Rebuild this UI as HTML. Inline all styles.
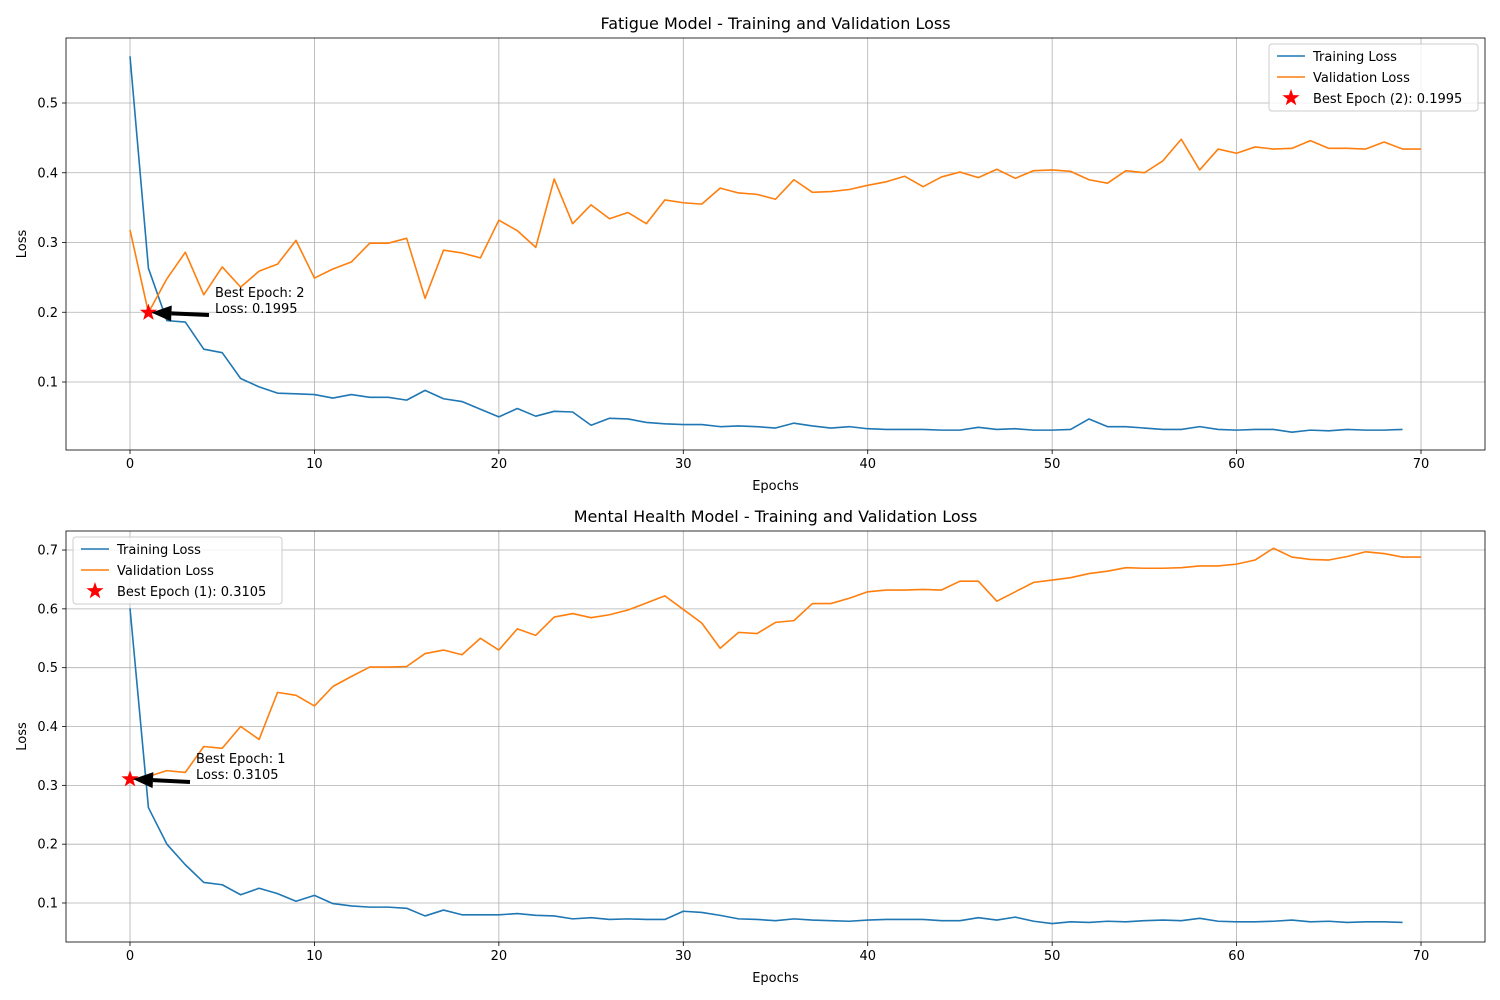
<!DOCTYPE html>
<html><head><meta charset="utf-8">
<style>
html,body{margin:0;padding:0;background:#fff;}
svg{display:block;font-family:"DejaVu Sans","Liberation Sans",sans-serif;}
</style></head>
<body>
<svg id="chart" width="1500" height="1000" viewBox="0 0 1500 1000" xmlns="http://www.w3.org/2000/svg"></svg>
<script>
const epochsTrain = Array.from({length:70},(_,i)=>i);
const epochsVal = Array.from({length:71},(_,i)=>i);
const fatigueTrain = [0.567,0.263,0.188,0.186,0.147,0.142,0.105,0.093,0.084,0.083,0.082,0.077,0.082,0.078,0.078,0.074,0.088,0.076,0.072,0.061,0.050,0.062,0.051,0.058,0.057,0.038,0.048,0.047,0.042,0.040,0.039,0.039,0.036,0.037,0.036,0.034,0.041,0.037,0.034,0.036,0.033,0.032,0.032,0.032,0.031,0.031,0.035,0.032,0.033,0.031,0.031,0.032,0.047,0.036,0.036,0.034,0.032,0.032,0.036,0.032,0.031,0.032,0.032,0.028,0.031,0.030,0.032,0.031,0.031,0.032];
const fatigueVal = [0.318,0.1995,0.248,0.286,0.225,0.265,0.236,0.259,0.269,0.303,0.249,0.262,0.272,0.299,0.299,0.306,0.220,0.289,0.285,0.278,0.332,0.317,0.293,0.391,0.327,0.354,0.334,0.343,0.327,0.361,0.357,0.355,0.378,0.371,0.369,0.362,0.390,0.372,0.373,0.376,0.382,0.387,0.395,0.380,0.394,0.401,0.393,0.405,0.392,0.403,0.404,0.402,0.390,0.385,0.403,0.400,0.417,0.448,0.404,0.434,0.428,0.437,0.434,0.435,0.446,0.435,0.435,0.434,0.444,0.434,0.434];
const mentalTrain = [0.601,0.262,0.200,0.165,0.135,0.131,0.114,0.125,0.116,0.103,0.113,0.099,0.095,0.093,0.093,0.091,0.078,0.088,0.080,0.080,0.080,0.082,0.079,0.078,0.073,0.075,0.072,0.073,0.072,0.072,0.086,0.084,0.079,0.073,0.072,0.070,0.073,0.071,0.070,0.069,0.071,0.072,0.072,0.072,0.070,0.070,0.075,0.071,0.076,0.069,0.065,0.068,0.067,0.069,0.068,0.070,0.071,0.070,0.074,0.069,0.068,0.068,0.069,0.071,0.068,0.069,0.067,0.068,0.068,0.067];
const mentalVal = [0.3105,0.315,0.325,0.322,0.366,0.363,0.400,0.378,0.458,0.453,0.435,0.468,0.485,0.501,0.501,0.502,0.524,0.530,0.522,0.550,0.530,0.566,0.555,0.586,0.592,0.585,0.590,0.598,0.610,0.622,0.599,0.576,0.533,0.560,0.558,0.577,0.580,0.609,0.609,0.618,0.629,0.632,0.632,0.633,0.632,0.647,0.647,0.613,0.629,0.645,0.649,0.653,0.660,0.664,0.670,0.669,0.669,0.670,0.673,0.673,0.676,0.683,0.703,0.688,0.684,0.683,0.689,0.697,0.694,0.688,0.688];
const xTicks = [0,10,20,30,40,50,60,70];
const fatigueYTicks = [0.1,0.2,0.3,0.4,0.5];
const mentalYTicks = [0.1,0.2,0.3,0.4,0.5,0.6,0.7];
const fatigueBest = {epoch:1, loss:0.1995, label:"Best Epoch: 2", legend:"Best Epoch (2): 0.1995"};
const mentalBest = {epoch:0, loss:0.3105, label:"Best Epoch: 1", legend:"Best Epoch (1): 0.3105"};

const NS="http://www.w3.org/2000/svg";
const svg=document.getElementById('chart');
function mk(tag,attrs,parent){const e=document.createElementNS(NS,tag);for(const k in attrs)e.setAttribute(k,attrs[k]);(parent||svg).appendChild(e);return e;}
function txt(s,attrs,parent){const e=mk('text',attrs,parent);e.textContent=s;return e;}

function panel(o){
  const g=mk('g',{});
  
  
  const L=66,R=1485,T=o.top,B=o.bottom;
  const xs=v=>130+v*18.443;
  const ys=v=>o.y0+(v-o.v0)*o.k;
  // grid
  xTicks.forEach(t=>{
    const l=mk('line',{x1:xs(t),x2:xs(t),y1:T,y2:B,stroke:'#b0b0b0','stroke-width':0.8},g);
    
    
    mk('line',{x1:xs(t),x2:xs(t),y1:B,y2:B+4,stroke:'#000','stroke-width':0.8},g);
    const t2=txt(String(t),{x:xs(t),y:B+18,'font-size':13,'text-anchor':'middle'},g);
    
    
  });
  o.yTicks.forEach(t=>{
    const l=mk('line',{x1:L,x2:R,y1:ys(t),y2:ys(t),stroke:'#b0b0b0','stroke-width':0.8},g);
    
    
    mk('line',{x1:L-4,x2:L,y1:ys(t),y2:ys(t),stroke:'#000','stroke-width':0.8},g);
    const t2=txt(t.toFixed(1),{x:L-8,y:ys(t)+4.5,'font-size':13,'text-anchor':'end'},g);
    
    
  });
  const line=(xsArr,vals,color,name)=>{
    const p=mk('polyline',{points:vals.map((v,i)=>xs(xsArr[i])+','+ys(v)).join(' '),fill:'none',stroke:color,'stroke-width':1.6,'stroke-linejoin':'round'},g);
    
    
  };
  line(epochsTrain,o.train,'#1f77b4','training-loss-line');
  line(epochsVal,o.val,'#ff7f0e','validation-loss-line');
  // star
  const star=(cx,cy,r)=>{let pts=[];for(let i=0;i<10;i++){const a=-Math.PI/2+i*Math.PI/5;const rr=i%2?r*0.4:r;pts.push((cx+rr*Math.cos(a)).toFixed(1)+','+(cy+rr*Math.sin(a)).toFixed(1));}return pts.join(' ');};
  const sx=xs(o.best.epoch),sy=ys(o.best.loss);
  const s=mk('polygon',{points:star(sx,sy,9),fill:'#ff0000'},g);
  
  
  // arrow
  const ax=o.arrowFrom[0],ay=o.arrowFrom[1];
  const ex=sx+3,ey=sy;
  const ang=Math.atan2(ey-ay,ex-ax);
  const hl=20,hw=8;
  const bx=ex-hl*Math.cos(ang),by=ey-hl*Math.sin(ang);
  const a=mk('g',{},g);
  
  
  mk('line',{x1:ax,y1:ay,x2:bx,y2:by,stroke:'#000','stroke-width':4},a);
  mk('polygon',{points:`${ex},${ey} ${bx+hw*Math.sin(ang)},${by-hw*Math.cos(ang)} ${bx-hw*Math.sin(ang)},${by+hw*Math.cos(ang)}`,fill:'#000'},a);
  const an=txt('',{x:o.annot[0],y:o.annot[1],'font-size':13},g);
  
  
  mk('tspan',{x:o.annot[0],dy:0},an).textContent=o.best.label;
  mk('tspan',{x:o.annot[0],dy:16},an).textContent='Loss: '+o.best.loss.toFixed(4);
  // frame
  mk('rect',{x:L,y:T,width:R-L,height:B-T,fill:'none',stroke:'#000','stroke-width':0.8},g);
  const ti=txt(o.title,{x:(L+R)/2,y:T-9,'font-size':16,'text-anchor':'middle'},g);
  
  
  const xl=txt('Epochs',{x:(L+R)/2,y:B+40,'font-size':13,'text-anchor':'middle'},g);
  
  
  const yl=txt('Loss',{x:0,y:0,'font-size':13,'text-anchor':'middle',transform:`translate(26,${(T+B)/2}) rotate(-90)`},g);
  
  
  // legend
  const lx=o.legend[0],ly=o.legend[1];
  const lg=mk('g',{},g);
  
  
  mk('rect',{x:lx,y:ly,width:209,height:67,rx:3,fill:'#fff','fill-opacity':0.8,stroke:'#ccc'},lg);
  const entries=[['Training Loss','#1f77b4','line'],['Validation Loss','#ff7f0e','line'],[o.best.legend,'#ff0000','star']];
  entries.forEach((e,i)=>{
    const cy=ly+12+i*21;
    const eg=mk('g',{},lg);
    
    
    if(e[2]==='line')mk('line',{x1:lx+8,x2:lx+36,y1:cy,y2:cy,stroke:e[1],'stroke-width':1.6},eg);
    else mk('polygon',{points:star(lx+22,cy,9),fill:e[1]},eg);
    txt(e[0],{x:lx+44,y:cy+5,'font-size':13},eg);
  });
}
panel({name:'fatigue-chart',title:'Fatigue Model - Training and Validation Loss',top:38,bottom:450,y0:382,v0:0.1,k:-697.5,yTicks:fatigueYTicks,train:fatigueTrain,val:fatigueVal,best:fatigueBest,arrowFrom:[209,315],annot:[215,297],legend:[1269,44]});
panel({name:'mental-health-chart',title:'Mental Health Model - Training and Validation Loss',top:531,bottom:942,y0:903,v0:0.1,k:-588.3,yTicks:mentalYTicks,train:mentalTrain,val:mentalVal,best:mentalBest,arrowFrom:[190,782],annot:[196,763],legend:[73,537]});
</script>
</body></html>
